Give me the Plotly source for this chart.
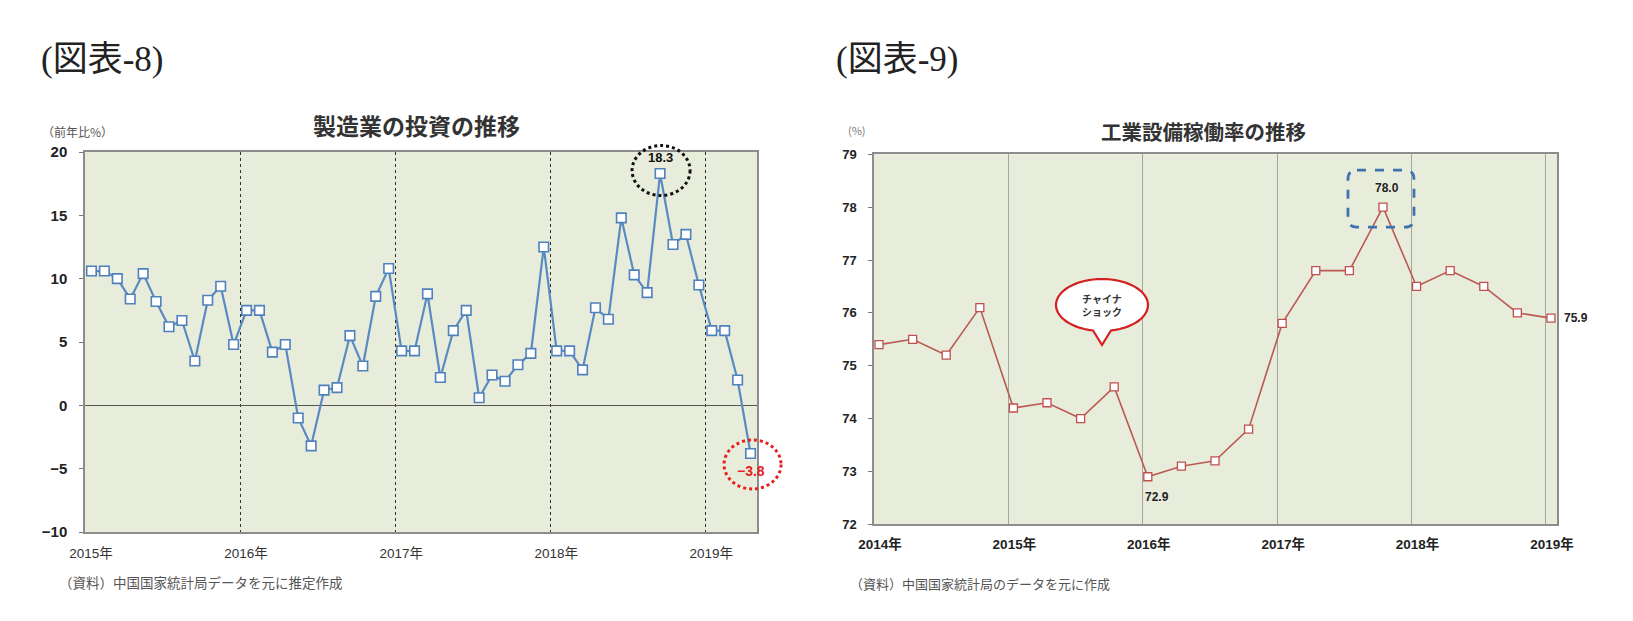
import math
import plotly.graph_objects as go

# ---------------- data ----------------
inv_years = ["2015年", "2016年", "2017年", "2018年", "2019年"]
inv_2015 = [10.6, 10.6, 10.0, 8.4, 10.4, 8.2, 6.2, 6.7, 3.5, 8.3, 9.4, 4.8]
inv_2016 = [7.5, 7.5, 4.2, 4.8, -1.0, -3.2, 1.2, 1.4, 5.5, 3.1, 8.6, 10.8]
inv_2017 = [4.3, 4.3, 8.8, 2.2, 5.9, 7.5, 0.6, 2.4, 1.9, 3.2, 4.1, 12.5]
inv_2018 = [4.3, 4.3, 2.8, 7.7, 6.8, 14.8, 10.3, 8.9, 18.3, 12.7, 13.5, 9.5]
inv_2019 = [5.9, 5.9, 2.0, -3.8]
inv_values = inv_2015 + inv_2016 + inv_2017 + inv_2018 + inv_2019

cap_years = ["2014年", "2015年", "2016年", "2017年", "2018年", "2019年"]
cap_2014 = [75.4, 75.5, 75.2, 76.1]
cap_2015 = [74.2, 74.3, 74.0, 74.6]
cap_2016 = [72.9, 73.1, 73.2, 73.8]
cap_2017 = [75.8, 76.8, 76.8, 78.0]
cap_2018 = [76.5, 76.8, 76.5, 76.0]
cap_2019 = [75.9]
cap_values = cap_2014 + cap_2015 + cap_2016 + cap_2017 + cap_2018 + cap_2019

# ---------------- geometry (page pixels) ----------------
W, H = 1633, 621
OFF = 8  # page body margin
L_X = (85, 757)
L_Y = (152, 532)
R_X = (874, 1557)
R_Y = (154.3, 524.3)
L_XR = [0, 52]
L_YR = [-10, 20]
R_XR = [0, 20.33]
R_YR = [72, 79]

inv_x = [i + 0.5 for i in range(len(inv_values))]
cap_x = [i + 0.15 for i in range(len(cap_values))]


def px(x, y, xpix, ypix, xr, yr):
    X = xpix[0] + (x - xr[0]) / (xr[1] - xr[0]) * (xpix[1] - xpix[0])
    Y = ypix[1] - (y - yr[0]) / (yr[1] - yr[0]) * (ypix[1] - ypix[0])
    return X, Y


def pp(X, Y):
    return (X - OFF) / W, 1 - (Y - OFF) / H


def P(X, Y):
    a, b = pp(X, Y)
    return "%.5f,%.5f" % (a, b)


def xdom(xp):
    return [(xp[0] - OFF) / W, (xp[1] - OFF) / W]


def ydom(yp):
    return [1 - (yp[1] - OFF) / H, 1 - (yp[0] - OFF) / H]


BLUE = "#4F81BD"
RED = "#C0504D"
BG = "#E8ECDB"
FONT = "Liberation Sans, Arial, Noto Sans CJK JP"
JP = "Noto Sans CJK JP"

fig = go.Figure()
fig.add_trace(go.Scatter(
    x=inv_x, y=inv_values, mode="lines+markers", xaxis="x", yaxis="y",
    line=dict(color="#5A8AC2", width=2.2),
    marker=dict(symbol="square", size=9.5, color="white", line=dict(color=BLUE, width=1.6)),
    cliponaxis=False, showlegend=False, hoverinfo="x+y"))
fig.add_trace(go.Scatter(
    x=cap_x, y=cap_values, mode="lines+markers", xaxis="x2", yaxis="y2",
    line=dict(color="#BA5A52", width=1.6),
    marker=dict(symbol="square", size=8, color="white", line=dict(color=RED, width=1.3)),
    cliponaxis=False, showlegend=False, hoverinfo="x+y"))

shapes = []
annotations = []

# ---- left chart annotations ----
imax = inv_values.index(max(inv_values))
Xp, Yp = px(inv_x[imax], inv_values[imax], L_X, L_Y, L_XR, L_YR)
cx, cy = Xp + 1, Yp - 3
x0, y0 = pp(cx - 29, cy - 25)
x1, y1 = pp(cx + 29, cy + 25)
shapes.append(dict(type="circle", xref="paper", yref="paper", x0=x0, x1=x1, y0=y0, y1=y1,
                   line=dict(color="#111", width=3, dash="dot"), layer="above"))
annotations.append(dict(x=inv_x[imax], y=inv_values[imax], xref="x", yref="y",
                        text="<b>%.1f</b>" % inv_values[imax], showarrow=False,
                        xanchor="center", yanchor="middle",
                        yshift=16, font=dict(family=FONT, size=13, color="#111")))

ilast = len(inv_values) - 1
Xp, Yp = px(inv_x[ilast], inv_values[ilast], L_X, L_Y, L_XR, L_YR)
cx, cy = Xp + 2, Yp + 11
x0, y0 = pp(cx - 28.5, cy - 24.5)
x1, y1 = pp(cx + 28.5, cy + 24.5)
shapes.append(dict(type="circle", xref="paper", yref="paper", x0=x0, x1=x1, y0=y0, y1=y1,
                   line=dict(color="#E8201E", width=3, dash="dot"), layer="above"))
annotations.append(dict(x=inv_x[ilast], y=inv_values[ilast], xref="x", yref="y",
                        text="<b>\u2212%.1f</b>" % abs(inv_values[ilast]), showarrow=False,
                        xanchor="center", yanchor="middle",
                        yshift=-18, font=dict(family=FONT, size=14, color="#E8201E")))

# ---- right chart annotations ----
jmax = cap_values.index(max(cap_values))
Xp, Yp = px(cap_x[jmax], cap_values[jmax], R_X, R_Y, R_XR, R_YR)
bx0, bx1, by0, by1, r = Xp - 35, Xp + 31, Yp - 37, Yp + 20, 9
path = ("M " + P(bx0 + r, by0) + " L " + P(bx1 - r, by0) + " Q " + P(bx1, by0) + " " + P(bx1, by0 + r) +
        " L " + P(bx1, by1 - r) + " Q " + P(bx1, by1) + " " + P(bx1 - r, by1) +
        " L " + P(bx0 + r, by1) + " Q " + P(bx0, by1) + " " + P(bx0, by1 - r) +
        " L " + P(bx0, by0 + r) + " Q " + P(bx0, by0) + " " + P(bx0 + r, by0) + " Z")
shapes.append(dict(type="path", xref="paper", yref="paper", path=path,
                   line=dict(color="#3F73AF", width=2.8, dash="dash"), layer="above"))
annotations.append(dict(x=cap_x[jmax], y=cap_values[jmax], xref="x2", yref="y2",
                        text="<b>%.1f</b>" % cap_values[jmax], showarrow=False,
                        xanchor="center", yanchor="middle",
                        yshift=19, xshift=4, font=dict(family=FONT, size=12, color="#222")))

jmin = cap_values.index(min(cap_values))
annotations.append(dict(x=cap_x[jmin], y=cap_values[jmin], xref="x2", yref="y2",
                        text="<b>%.1f</b>" % cap_values[jmin], showarrow=False,
                        xanchor="center", yanchor="middle",
                        yshift=-20, xshift=9, font=dict(family=FONT, size=12, color="#222")))
jlast = len(cap_values) - 1
annotations.append(dict(x=cap_x[jlast], y=cap_values[jlast], xref="x2", yref="y2",
                        text="<b>%.1f</b>" % cap_values[jlast], showarrow=False,
                        xanchor="left", yanchor="middle",
                        xshift=11, font=dict(family=FONT, size=12, color="#222")))

# speech bubble "チャイナショック"
bcx, bcy, rx, ry = 1102, 305, 46, 26
tb = 9
t_r = math.acos(tb / rx)
t_l = math.pi - t_r
seg = []
n = 60
for k in range(n + 1):
    t = t_l + (2 * math.pi - (t_l - t_r)) * k / n
    seg.append(P(bcx + rx * math.cos(t), bcy + ry * math.sin(t)))
bpath = "M " + seg[0] + " " + " ".join("L " + s for s in seg[1:]) + " L " + P(bcx, 345) + " Z"
shapes.append(dict(type="path", xref="paper", yref="paper", path=bpath, fillcolor="white",
                   line=dict(color="#D42020", width=2.2), layer="above"))

# ---- titles and texts (page pixel centres) ----
texts = [
    (102, 59, "(図表-8)", dict(family="Liberation Serif, Noto Sans CJK JP", size=35, color="#222")),
    (897, 59, "(図表-9)", dict(family="Liberation Serif, Noto Sans CJK JP", size=35, color="#222")),
    (417, 125, "<b>製造業の投資の推移</b>", dict(family=JP, size=23, color="#333")),
    (1203, 131, "<b>工業設備稼働率の推移</b>", dict(family=JP, size=20.5, color="#333")),
    (77, 131, "（前年比%）", dict(family=JP, size=12, color="#555")),
    (857, 130, "(%)", dict(family=JP, size=11, color="#777")),
    (201, 582, "（資料）中国国家統計局データを元に推定作成", dict(family=JP, size=13.5, color="#555")),
    (980, 583, "（資料）中国国家統計局のデータを元に作成", dict(family=JP, size=13, color="#555")),
    (bcx, 298, "<b>チャイナ</b>", dict(family=JP, size=10, color="#333")),
    (bcx, 312, "<b>ショック</b>", dict(family=JP, size=10, color="#333")),
]
for (X, Y, t, f) in texts:
    a, b = pp(X, Y)
    annotations.append(dict(x=a, y=b, xref="paper", yref="paper", text=t, showarrow=False,
                            xanchor="center", yanchor="middle", font=f))

fig.update_layout(
    template="none",
    width=W, height=H, margin=dict(l=0, r=0, t=0, b=0, pad=0, autoexpand=False),
    paper_bgcolor="white", plot_bgcolor=BG, showlegend=False,
    shapes=shapes, annotations=annotations,
    xaxis=dict(domain=xdom(L_X), range=L_XR, anchor="y", automargin=False,
               tickmode="array", tickvals=[12 * i for i in range(len(inv_years))], ticktext=inv_years,
               ticklabelshift=6, ticklabelstandoff=8, ticks="", showgrid=True, gridcolor="#333",
               griddash="dot", gridwidth=1,
               showline=True, mirror=True, linecolor="#8C8C8C", linewidth=1.5, zeroline=False,
               tickfont=dict(family=FONT, size=13.5, color="#333")),
    yaxis=dict(domain=ydom(L_Y), range=L_YR, anchor="x", automargin=False,
               tickmode="linear", tick0=-10, dtick=5, ticks="outside", ticklen=4, tickcolor="#777",
               ticklabelstandoff=9,
               showgrid=False, zeroline=True, zerolinecolor="#555", zerolinewidth=1,
               showline=True, mirror=True, linecolor="#8C8C8C", linewidth=1.5,
               tickfont=dict(family=FONT, size=15, color="#222", weight="bold")),
    xaxis2=dict(domain=xdom(R_X), range=R_XR, anchor="y2", automargin=False,
                tickmode="array", tickvals=[4 * i for i in range(len(cap_years))], ticktext=cap_years,
                ticklabelshift=6, ticklabelstandoff=7, ticks="", showgrid=True, gridcolor="#A3A89E",
                gridwidth=1,
                showline=True, mirror=True, linecolor="#8C8C8C", linewidth=1.5, zeroline=False,
                tickfont=dict(family=FONT, size=13.5, color="#222", weight="bold")),
    yaxis2=dict(domain=ydom(R_Y), range=R_YR, anchor="x2", automargin=False,
                tickmode="linear", tick0=72, dtick=1, ticks="outside", ticklen=4, tickcolor="#777",
                ticklabelstandoff=9,
                showgrid=False, zeroline=False,
                showline=True, mirror=True, linecolor="#8C8C8C", linewidth=1.5,
                tickfont=dict(family=FONT, size=13, color="#222", weight="bold")),
)

fig.write_html("out.html")
